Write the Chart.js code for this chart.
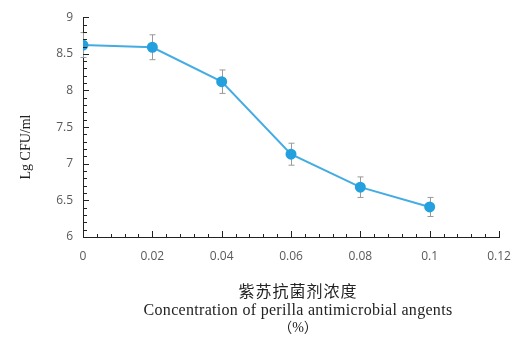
<!DOCTYPE html>
<html>
<head>
<meta charset="utf-8">
<script src="https://cdn.jsdelivr.net/npm/chart.js@4"></script>
<style>
  html, body { margin: 0; padding: 0; background: #fff; }
  #wrap { width: 523px; height: 340px; }
</style>
</head>
<body>
<div id="wrap"><canvas id="chart"></canvas></div>
<script>
const concentration = [0, 0.02, 0.04, 0.06, 0.08, 0.1];
const lgCfu = [8.62, 8.59, 8.12, 7.13, 6.68, 6.41];
const errorBars = [0.17, 0.17, 0.16, 0.15, 0.14, 0.13];
const xTickLabels = ['0', '0.02', '0.04', '0.06', '0.08', '0.1', '0.12'];
const yTickLabels = ['6', '6.5', '7', '7.5', '8', '8.5', '9'];
const yTitle = 'Lg CFU/ml';
const xTitleLines = ['紫苏抗菌剂浓度', 'Concentration of perilla antimicrobial angents', '（%）'];

const labelColor = '#595959';

// error bars drawn behind the markers
const errorBarPlugin = {
    id: 'errorBars',
    beforeDatasetsDraw(chart) {
        const ctx = chart.ctx;
        const x = chart.scales.x, y = chart.scales.y;
        ctx.save();
        ctx.strokeStyle = '#9a9a9a';
        ctx.lineWidth = 1;
        concentration.forEach((c, i) => {
            const px = Math.round(x.getPixelForValue(c)) + 0.5;
            const top = y.getPixelForValue(lgCfu[i] + errorBars[i]);
            const bot = y.getPixelForValue(lgCfu[i] - errorBars[i]);
            ctx.beginPath();
            ctx.moveTo(px, top); ctx.lineTo(px, bot);
            ctx.moveTo(px - 3, top); ctx.lineTo(px + 3, top);
            ctx.moveTo(px - 3, bot); ctx.lineTo(px + 3, bot);
            ctx.stroke();
        });
        ctx.restore();
    }
};

// inward major/minor tick marks plus titles
const axisDecorPlugin = {
    id: 'axisDecor',
    afterDraw(chart) {
        const ctx = chart.ctx;
        const x = chart.scales.x, y = chart.scales.y;
        const area = chart.chartArea;
        ctx.save();
        ctx.strokeStyle = '#222';
        ctx.lineWidth = 1;
        ctx.beginPath();
        for (let i = 0; i <= 30; i++) {
            const py = Math.round(y.getPixelForValue(6 + i * 0.1)) + 0.5;
            const len = i % 5 === 0 ? 6 : 4;
            ctx.moveTo(area.left, py); ctx.lineTo(area.left + len, py);
        }
        for (let i = 0; i <= 30; i++) {
            const px = Math.round(x.getPixelForValue(i * 0.004)) + 0.5;
            const len = i % 5 === 0 ? 6 : 3;
            ctx.moveTo(px, area.bottom); ctx.lineTo(px, area.bottom - len);
        }
        ctx.stroke();

        ctx.fillStyle = '#222';
        ctx.textAlign = 'center';
        ctx.textBaseline = 'middle';
        ctx.save();
        ctx.translate(26, 147);
        ctx.rotate(-Math.PI / 2);
        ctx.font = '14px "Liberation Serif", serif';
        ctx.fillText(yTitle, 0, 0);
        ctx.restore();

        ctx.font = '16px "Noto Sans CJK SC", sans-serif';
        ctx.letterSpacing = '1px';
        ctx.fillText(xTitleLines[0], 298, 291);
        ctx.font = '16px "Liberation Serif", "Noto Sans CJK SC", serif';
        ctx.letterSpacing = '0.3px';
        ctx.fillText(xTitleLines[1], 298, 311);
        ctx.font = '14px "Liberation Serif", "Noto Sans CJK SC", serif';
        ctx.letterSpacing = '0px';
        ctx.fillText(xTitleLines[2], 298, 328);
        ctx.restore();
    }
};

new Chart(document.getElementById('chart'), {
    type: 'scatter',
    data: {
        datasets: [{
            data: concentration.map((c, i) => ({ x: c, y: lgCfu[i] })),
            showLine: true,
            borderColor: '#43ace3',
            borderWidth: 2,
            backgroundColor: '#25a0de',
            pointBackgroundColor: '#25a0de',
            pointBorderColor: '#25a0de',
            pointRadius: 4.5,
            pointHoverRadius: 4.5
        }]
    },
    options: {
        responsive: true,
        maintainAspectRatio: false,
        animation: false,
        events: [],
        layout: { padding: { left: 0, right: 24, top: 17, bottom: 0 } },
        plugins: {
            legend: { display: false },
            tooltip: { enabled: false }
        },
        scales: {
            x: {
                type: 'linear',
                min: 0,
                max: 0.12,
                afterFit: s => { s.height = 103; },
                grid: { display: false, drawTicks: false },
                border: { display: true, color: '#222', width: 1 },
                ticks: {
                    stepSize: 0.02,
                    padding: 12,
                    color: labelColor,
                    font: { family: 'Open Sans', size: 12 },
                    callback: (v, i) => xTickLabels[i]
                }
            },
            y: {
                min: 6,
                max: 9,
                afterFit: s => { s.width = 83; },
                grid: { display: false, drawTicks: false },
                border: { display: true, color: '#222', width: 1 },
                ticks: {
                    stepSize: 0.5,
                    padding: 10,
                    color: labelColor,
                    font: { family: 'Open Sans', size: 12 },
                    callback: (v, i) => yTickLabels[i]
                }
            }
        }
    },
    plugins: [errorBarPlugin, axisDecorPlugin]
});
</script>
</body>
</html>
